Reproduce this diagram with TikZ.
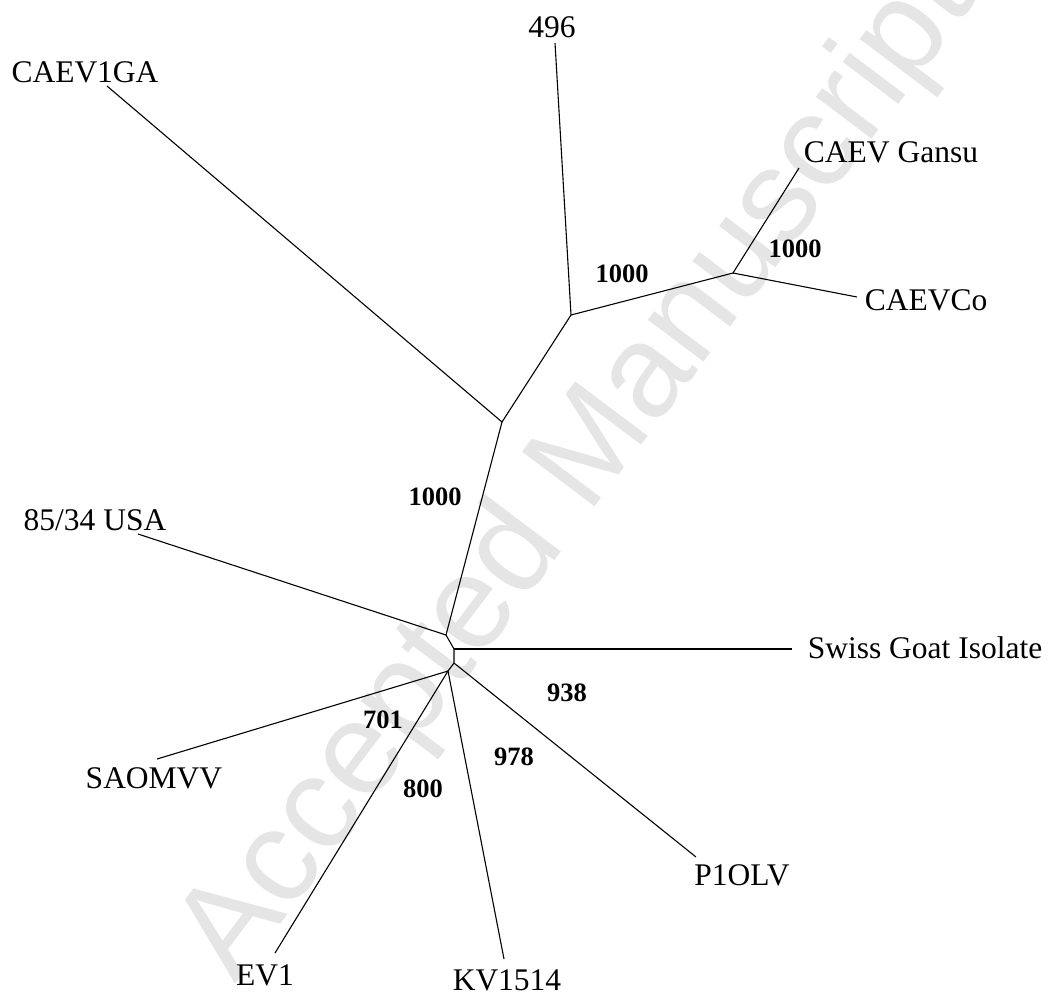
\documentclass[tikz,border=0pt]{standalone}
\usepackage{fontspec}
\setmainfont{Liberation Serif}
\setsansfont{Liberation Sans}
\usetikzlibrary{positioning}

\begin{document}
\begin{tikzpicture}[x=1pt, y=-1pt, line width=1.1pt]
\tikzstyle{blad} = [inner sep=0pt, anchor=base, font=\fontsize{31.5}{36}\selectfont]
\tikzstyle{steun} = [inner sep=0pt, anchor=base, font=\fontsize{26.5}{30}\selectfont\bfseries]
\tikzstyle{stempel} = [inner sep=0pt, anchor=base west, rotate=53, text=black!10, font=\sffamily\fontsize{132}{136}\selectfont]
\useasboundingbox (0,0) rectangle (1056,997);

\node [stempel] (watermerk) at (235,985) {Accepted Manuscript};

% inwendige knopen
\coordinate (wortel) at (446,635);
\coordinate (zwitservork) at (454,649);
\coordinate (polvork) at (454,663);
\coordinate (lagevork) at (448,671);
\coordinate (stam) at (502,422);
\coordinate (caevvork) at (571,315);
\coordinate (gansuvork) at (733,273);

% uiteinden van de takken
\coordinate (eind1ga) at (107,86);
\coordinate (eind496) at (555,43);
\coordinate (eindgansu) at (799,168);
\coordinate (eindco) at (857,297);
\coordinate (eindusa) at (138,534);
\coordinate (eindzwitser) at (792,649);
\coordinate (eindpol) at (696,857);
\coordinate (eindkv) at (504,959);
\coordinate (eindev) at (275,953);
\coordinate (eindsao) at (157,759);

\node [blad] (caev1ga) at (85,82) {CAEV1GA};
\node [blad] (v496) at (552,37) {496};
\node [blad] (gansu) at (891,162) {CAEV Gansu};
\node [blad] (caevco) at (926,310) {CAEVCo};
\node [blad] (usa) at (95,530) {85/34 USA};
\node [blad] (zwitser) at (925,658) {Swiss Goat Isolate};
\node [blad] (p1olv) at (742,885) {P1OLV};
\node [blad] (kv1514) at (507,990) {KV1514};
\node [blad] (ev1) at (265,985) {EV1};
\node [blad] (saomvv) at (154,788) {SAOMVV};

\draw (wortel) -- (zwitservork) -- (polvork) -- (lagevork);
\draw (wortel) -- (stam);
\draw (wortel) -- (eindusa);
\draw (zwitservork) -- (eindzwitser);
\draw (polvork) -- (eindpol);
\draw (lagevork) -- (eindkv);
\draw (lagevork) -- (eindev);
\draw (lagevork) -- (eindsao);
\draw (stam) -- (eind1ga);
\draw (stam) -- (caevvork);
\draw (caevvork) -- (eind496);
\draw (caevvork) -- (gansuvork);
\draw (gansuvork) -- (eindgansu);
\draw (gansuvork) -- (eindco);

\node [steun] (b1) at (622,282) {1000};
\node [steun] (b2) at (795,257) {1000};
\node [steun] (b3) at (435,505) {1000};
\node [steun] (b4) at (567,701) {938};
\node [steun] (b5) at (383,728) {701};
\node [steun] (b6) at (514,765) {978};
\node [steun] (b7) at (423,797) {800};

\end{tikzpicture}
\end{document}
